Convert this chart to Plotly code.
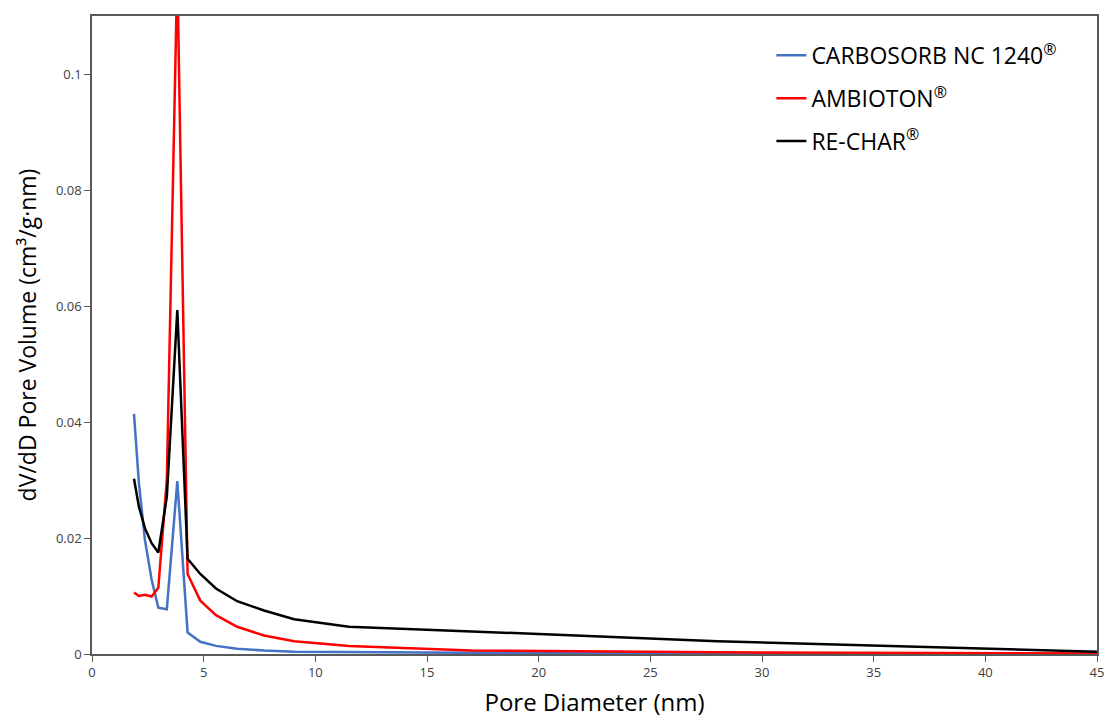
import plotly.graph_objects as go

pore_diameter = [1.88, 2.1, 2.37, 2.67, 2.97, 3.35, 3.82, 4.28, 4.85, 5.55, 6.5, 7.7, 9.05, 11.5, 17.0, 28.0, 45.0]

carbosorb = [0.0414, 0.0295, 0.0197, 0.0128, 0.0080, 0.0077, 0.0298, 0.0037, 0.0021, 0.0014, 0.0009, 0.0006, 0.0004, 0.0003, 0.0002, 0.0001, 0.00005]
ambioton = [0.0106, 0.0100, 0.0102, 0.0099, 0.0114, 0.0300, 0.1180, 0.0138, 0.0092, 0.0067, 0.0047, 0.0032, 0.0022, 0.0014, 0.0006, 0.0003, 0.0001]
rechar = [0.0302, 0.0254, 0.0217, 0.0191, 0.0175, 0.0271, 0.0593, 0.0164, 0.0138, 0.0113, 0.0091, 0.0075, 0.0060, 0.0047, 0.0039, 0.0022, 0.0004]

reg = "<sup><span style='font-size:16px'>®</span></sup>"
series_names = ["CARBOSORB NC 1240" + reg, "AMBIOTON" + reg, "RE-CHAR" + reg]
series_colors = ["#4472C4", "#FF0000", "#000000"]
series_values = [carbosorb, ambioton, rechar]

x_ticks = [0, 5, 10, 15, 20, 25, 30, 35, 40, 45]
y_ticks = [0, 0.02, 0.04, 0.06, 0.08, 0.1]
y_tick_labels = ["0", "0.02", "0.04", "0.06", "0.08", "0.1"]

fig = go.Figure()
for i, (name, color, vals) in enumerate(zip(series_names, series_colors, series_values)):
    fig.add_trace(go.Scatter(
        x=pore_diameter, y=vals, mode="lines", name=name,
        line=dict(color=color, width=2.5), legendgroup=f"g{i}",
    ))

axis_common = dict(
    showgrid=False, zeroline=False, showline=True, linecolor="#595959", linewidth=1.5,
    mirror=True, ticks="outside", ticklen=6, tickcolor="#595959", tickwidth=1,
    tickfont=dict(family="Open Sans", size=13, color="#404040"),
)

fig.update_layout(
    width=1105, height=718,
    paper_bgcolor="white", plot_bgcolor="white",
    margin=dict(l=92, r=8, t=16, b=64, autoexpand=False),
    showlegend=True,
    legend=dict(
        x=0.676, y=0.972, xanchor="left", yanchor="top",
        font=dict(family="Open Sans", size=23, color="#000000"),
        bgcolor="rgba(0,0,0,0)", tracegroupgap=10, itemwidth=30,
    ),
    xaxis=dict(
        range=[0, 45], tickvals=x_ticks,
        title=dict(text="Pore Diameter (nm)", font=dict(family="Open Sans", size=24, color="#000000"), standoff=26),
        **axis_common,
    ),
    yaxis=dict(
        range=[0, 0.11], tickvals=y_ticks, ticktext=y_tick_labels,
        title=dict(text="dV/dD Pore Volume (cm³/g·nm)", font=dict(family="Open Sans", size=23, color="#000000"), standoff=13),
        **axis_common,
    ),
)

fig.write_html("out.html", config={"displayModeBar": False},
               post_script="document.body.style.margin='0';")
